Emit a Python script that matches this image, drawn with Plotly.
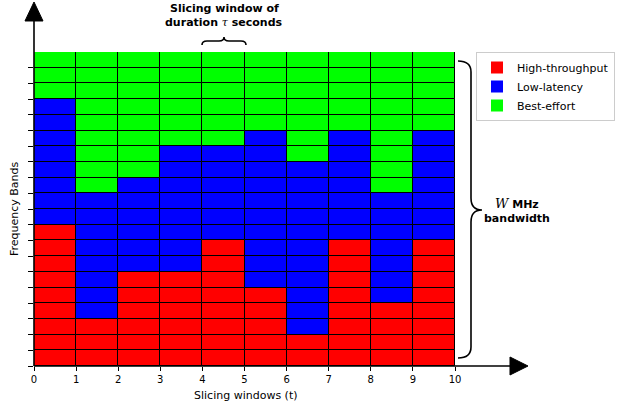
import plotly.graph_objects as go

# ---- data ----
windows = list(range(10))                      # slicing windows 0..9
n_bands = 20                                   # frequency bands
high_throughput = [9, 3, 6, 6, 8, 5, 2, 8, 4, 8]
low_latency     = [8, 8, 6, 8, 6, 10, 11, 7, 7, 7]
best_effort     = [3, 9, 8, 6, 6, 5, 7, 5, 9, 5]
x_ticks = list(range(11))
class_names = ["High-throughput", "Low-latency", "Best-effort"]
class_colors = ["#ff0000", "#0000ff", "#00ff00"]

W, H = 623, 414
L, R, T, B = 34, 455, 52, 366  # plot area in pixels

def px(x):
    return (x - L) / (R - L)

def py(y):
    return (B - y) / (B - T)

fig = go.Figure()

counts = [high_throughput, low_latency, best_effort]
offsets = [0] * len(windows)
for name, color, cnt in zip(class_names, class_colors, counts):
    xs, bases = [], []
    for i, w in enumerate(windows):
        for k in range(cnt[i]):
            xs.append(w + 0.5)
            bases.append(offsets[i] + k)
        offsets[i] += cnt[i]
    fig.add_trace(go.Bar(
        x=xs, y=[1] * len(xs), base=bases, width=1,
        marker=dict(color=color, line=dict(color="black", width=1)),
        showlegend=False, hoverinfo="skip"))

for name, color in zip(class_names, class_colors):
    fig.add_trace(go.Bar(x=[None], y=[None], name=name,
                         marker=dict(color=color, line=dict(width=0))))

FONT = "DejaVu Sans"

shapes = []
# spines
shapes.append(dict(type="line", xref="paper", yref="paper",
                   x0=px(34), y0=py(366), x1=px(34), y1=py(18),
                   line=dict(color="black", width=1.6)))
shapes.append(dict(type="line", xref="paper", yref="paper",
                   x0=px(34), y0=py(366), x1=px(512), y1=py(366),
                   line=dict(color="black", width=1.6)))

def path_from(pts, closed=True):
    s = "M " + " L ".join(f"{px(x):.5f},{py(y):.5f}" for x, y in pts)
    return s + (" Z" if closed else "")

# arrow heads
shapes.append(dict(type="path", xref="paper", yref="paper",
                   path=path_from([(34, 2), (25, 21), (43, 21)]),
                   fillcolor="black", line=dict(color="black", width=1)))
shapes.append(dict(type="path", xref="paper", yref="paper",
                   path=path_from([(528, 366), (510, 357), (510, 375)]),
                   fillcolor="black", line=dict(color="black", width=1)))

def brace(cmds):
    out = []
    for c in cmds:
        if isinstance(c, str):
            out.append(c)
        else:
            out.append(f"{px(c[0]):.5f},{py(c[1]):.5f}")
    return " ".join(out)

top_brace = brace(["M", (202, 45), "Q", (202, 41), (207, 41), "L", (219, 41),
                   "Q", (224, 41), (224, 37), "Q", (224, 41), (229, 41),
                   "L", (241, 41), "Q", (246, 41), (246, 45)])
right_brace = brace(["M", (458, 61), "Q", (471, 61), (471, 72), "L", (471, 198),
                     "Q", (471, 210), (482, 210), "Q", (471, 210), (471, 222),
                     "L", (471, 347), "Q", (471, 358), (458, 358)])
for p in (top_brace, right_brace):
    shapes.append(dict(type="path", xref="paper", yref="paper", path=p,
                       line=dict(color="black", width=1.6)))

def ann(text, x, y, **kw):
    d = dict(text=text, x=px(x), y=py(y), xref="paper", yref="paper",
             xanchor="center", yanchor="middle", showarrow=False,
             font=dict(family=FONT, size=11, color="black"))
    d.update(kw)
    return d

annotations = [
    ann("<b>Slicing window of</b>", 224, 9),
    ann("<b>duration </b><span style=\"font-family:'DejaVu Serif'\"><i>τ</i></span><b> seconds</b>", 224, 22),
    ann("<span style=\"font-family:'DejaVu Serif'; font-size:13px\"><i>W</i></span><b> MHz</b>", 517, 203),
    ann("<b>bandwidth</b>", 517, 218),
    ann("Frequency Bands", 14, 209, textangle=-90),
    ann("Slicing windows (t)", 246, 395),
]

fig.update_layout(
    width=W, height=H,
    margin=dict(l=L, r=W - R, t=T, b=H - B, pad=0, autoexpand=False),
    paper_bgcolor="white", plot_bgcolor="white",
    barmode="overlay", bargap=0,
    font=dict(family=FONT, size=10, color="black"),
    showlegend=True,
    legend=dict(x=px(476), y=1, xanchor="left", yanchor="top",
                bgcolor="white", bordercolor="#cccccc", borderwidth=1,
                font=dict(family=FONT, size=11, color="black"),
                tracegroupgap=0),
    shapes=shapes,
    annotations=annotations,
)
fig.update_xaxes(range=[0, 10], tickvals=x_ticks, ticktext=[str(t) for t in x_ticks],
                 ticks="outside", ticklen=4, tickwidth=1, tickcolor="black",
                 showgrid=False, zeroline=False, showline=False, fixedrange=True,
                 automargin=False,
                 tickfont=dict(family=FONT, size=10, color="black"))
fig.update_yaxes(range=[0, n_bands], tickvals=list(range(n_bands)),
                 ticks="outside", ticklen=5, tickwidth=1, tickcolor="black",
                 showticklabels=False, showgrid=False, zeroline=False,
                 showline=False, fixedrange=True, automargin=False)

fig.write_html("out.html", config={"displayModeBar": False},
               post_script="document.body.style.margin='0';document.body.style.overflow='hidden';")
